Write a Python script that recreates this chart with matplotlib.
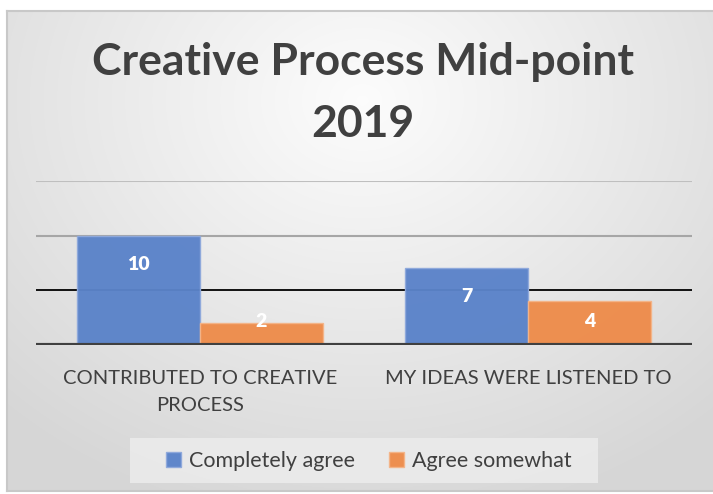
import numpy as np
import matplotlib
matplotlib.use('Agg')
import matplotlib.pyplot as plt
from matplotlib.patches import Rectangle

# data
categories = ["CONTRIBUTED TO CREATIVE\nPROCESS", "MY IDEAS WERE LISTENED TO"]
series_names = ["Completely agree", "Agree somewhat"]
completely_agree = [10, 7]
agree_somewhat = [2, 4]
colors = ["#5b83c9", "#ee8c4b"]

plt.rcParams['font.family'] = ['Lato', 'DejaVu Sans']
text_col = "#404040"

W, H = 713, 494
fig = plt.figure(figsize=(W / 100, H / 100), dpi=100)
fig.patch.set_facecolor("white")

# chart area background (radial gradient) with frame
bg = fig.add_axes([7 / W, 1 - 491 / H, (W - 7) / W, (491 - 11) / H], zorder=0)
yy, xx = np.mgrid[0:480, 0:706]
d = np.sqrt(((xx - 355) / 520.0) ** 2 + ((yy - 90) / 430.0) ** 2)
shade = np.clip(0.99 - 0.15 * d, 0.84, 0.99)
bg.imshow(np.dstack([shade] * 3), aspect='auto', extent=[0, 1, 0, 1])
bg.set_xticks([])
bg.set_yticks([])
for side in bg.spines.values():
    side.set_color("#c8c8c8")
    side.set_linewidth(1.5)
bg.spines['right'].set_visible(False)

# legend box
bg.add_patch(Rectangle(((130 - 7) / (W - 7), (491 - 483) / 480), 468 / (W - 7), 45 / 480,
                       transform=bg.transAxes, facecolor="#ececec", alpha=0.85,
                       edgecolor="none", zorder=2))

ax = fig.add_axes([36 / W, 1 - 345 / H, 656 / W, 164 / H], zorder=1)
ax.patch.set_alpha(0)

x = np.arange(len(categories))
bw = 0.375
b1 = ax.bar(x - bw / 2, completely_agree, bw, color=colors[0], alpha=0.97,
            edgecolor="#8fa9dc", linewidth=1, label=series_names[0], zorder=2)
b2 = ax.bar(x + bw / 2, agree_somewhat, bw, color=colors[1], alpha=0.97,
            edgecolor="#f4b488", linewidth=1, label=series_names[1], zorder=2)

for bars, vals in [(b1, completely_agree), (b2, agree_somewhat)]:
    for rect, v in zip(bars, vals):
        ax.text(rect.get_x() + rect.get_width() / 2, max(v - 2.6, 2.15), str(v),
                ha='center', va='center', color='white', fontsize=14,
                fontweight='heavy', zorder=3)

ax.set_xlim(-0.5, 1.5)
ax.set_ylim(0, 15)
ax.axhline(5, color="black", lw=1.3, zorder=1)
ax.axhline(10, color="#a6a6a6", lw=1.5, zorder=1)
ax.axhline(15, color="#bfbfbf", lw=1.5, zorder=1)
ax.axhline(0, color="#404040", lw=3, zorder=3)
for side in ax.spines.values():
    side.set_visible(False)
ax.set_yticks([])
ax.set_xticks(x)
ax.set_xticklabels(categories, fontsize=14.5, color=text_col, linespacing=1.7)
ax.tick_params(axis='x', length=0, pad=18)

fig.text(363 / W, 1 - 93 / H, "Creative Process Mid-point\n2019", ha='center',
         va='center', fontsize=32, fontweight='bold', color=text_col,
         linespacing=1.65)

leg = fig.legend(handles=[b1, b2], loc='center', bbox_to_anchor=(369 / W, 1 - 461 / H),
                 ncol=2, frameon=False, fontsize=15.5, handlelength=0.7,
                 handleheight=0.7, handletextpad=0.35, columnspacing=1.6,
                 labelcolor=text_col)

fig.savefig("out.png", dpi=100)
